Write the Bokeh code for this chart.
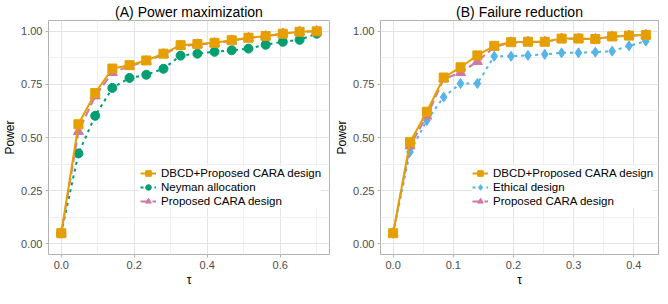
from bokeh.plotting import figure
from bokeh.layouts import row
from bokeh.models import (FixedTicker, PrintfTickFormatter, Legend, LegendItem, Range1d)
from bokeh.embed import file_html
from bokeh.resources import INLINE

# ---- data ----
tau_a = [0, 0.047, 0.093, 0.14, 0.187, 0.233, 0.28, 0.327, 0.373, 0.42, 0.467, 0.513, 0.56, 0.607, 0.653, 0.7]
dbcd_a = [0.05, 0.562, 0.709, 0.824, 0.840, 0.862, 0.894, 0.934, 0.939, 0.945, 0.957, 0.969, 0.977, 0.988, 0.997, 0.999]
prop_a = [0.05, 0.528, 0.695, 0.805, 0.835, 0.858, 0.890, 0.930, 0.937, 0.943, 0.955, 0.968, 0.976, 0.988, 0.997, 0.999]
neyman_a = [0.05, 0.425, 0.602, 0.733, 0.780, 0.795, 0.823, 0.885, 0.894, 0.903, 0.910, 0.918, 0.936, 0.950, 0.959, 0.988]

tau_b = [0, 0.028, 0.056, 0.084, 0.112, 0.14, 0.168, 0.196, 0.224, 0.252, 0.28, 0.308, 0.336, 0.364, 0.392, 0.42]
dbcd_b = [0.05, 0.478, 0.621, 0.782, 0.830, 0.886, 0.931, 0.948, 0.950, 0.950, 0.965, 0.965, 0.963, 0.975, 0.979, 0.982]
prop_b = [0.05, 0.460, 0.600, 0.775, 0.805, 0.857, 0.925, 0.946, 0.949, 0.949, 0.964, 0.964, 0.962, 0.974, 0.978, 0.981]
ethical_b = [0.05, 0.432, 0.580, 0.690, 0.754, 0.754, 0.882, 0.882, 0.886, 0.891, 0.898, 0.898, 0.901, 0.906, 0.931, 0.953]

y_ticks = [0, 0.25, 0.5, 0.75, 1.0]
y_minor = [0.125, 0.375, 0.625, 0.875]

ORANGE = "#E69F00"
GREEN = "#009E73"
PINK = "#CC79A7"
BLUE = "#56B4E9"
FONT = "Liberation Sans"


def make_panel(title, x, dbcd, other, prop, other_name, other_color, other_marker,
               other_size, x_ticks, x_minor, x_range, frame_w, border_right):
    p = figure(frame_width=frame_w, frame_height=234, output_backend="svg",
               toolbar_location=None,
               x_range=Range1d(*x_range), y_range=Range1d(-0.05, 1.05),
               min_border_left=37, min_border_right=border_right, min_border_top=0,
               min_border_bottom=0)
    p.title.text = title
    p.title.align = "center"
    p.title.text_font = FONT
    p.title.text_font_size = "14px"
    p.title.text_font_style = "normal"
    p.title.text_color = "black"
    p.title.standoff = 2

    p.outline_line_color = "#B3B3B3"
    p.outline_line_width = 1
    p.background_fill_color = "white"
    p.border_fill_color = "white"

    p.xaxis.ticker = FixedTicker(ticks=x_ticks, minor_ticks=x_minor)
    p.yaxis.ticker = FixedTicker(ticks=y_ticks, minor_ticks=y_minor)
    p.xaxis.formatter = PrintfTickFormatter(format="%.1f")
    p.yaxis.formatter = PrintfTickFormatter(format="%.2f")
    p.xaxis.axis_label = "τ"
    p.yaxis.axis_label = "Power"
    for ax in (p.xaxis, p.yaxis):
        ax.axis_line_color = None
        ax.major_tick_line_color = "#B3B3B3"
        ax.major_tick_in = 0
        ax.major_tick_out = 3
        ax.minor_tick_line_color = None
        ax.major_label_text_font = FONT
        ax.major_label_text_font_size = "11px"
        ax.major_label_text_color = "#4D4D4D"
        ax.major_label_standoff = 2
        ax.axis_label_text_font = FONT
        ax.axis_label_text_font_size = "12px"
        ax.axis_label_text_font_style = "normal"
        ax.axis_label_text_color = "black"
        ax.axis_label_standoff = 1

    for g in (p.xgrid, p.ygrid):
        g.grid_line_color = "#E4E4E4"
        g.grid_line_width = 1
        g.minor_grid_line_color = "#F0F0F0"
        g.minor_grid_line_width = 1

    # other (dotted)
    l_o = p.line(x, other, line_color=other_color, line_width=2, line_dash="3 4")
    s_o = p.scatter(x, other, marker=other_marker, size=other_size, color=other_color)
    # proposed (dashed)
    l_p = p.line(x, prop, line_color=PINK, line_width=2, line_dash="8 4")
    s_p = p.scatter(x, prop, marker="triangle", size=10, color=PINK)
    # DBCD (solid)
    l_d = p.line(x, dbcd, line_color=ORANGE, line_width=2)
    s_d = p.scatter(x, dbcd, marker="square", size=9, color=ORANGE)

    legend = Legend(items=[
        LegendItem(label="DBCD+Proposed CARA design", renderers=[l_d, s_d]),
        LegendItem(label=other_name, renderers=[l_o, s_o]),
        LegendItem(label="Proposed CARA design", renderers=[l_p, s_p]),
    ], location=(92, 46))
    legend.label_text_font = FONT
    legend.label_text_font_size = "11.5px"
    legend.label_text_color = "black"
    legend.label_height = 14
    legend.glyph_height = 14
    legend.glyph_width = 16
    legend.label_standoff = 5
    legend.spacing = 0
    legend.padding = 4
    legend.margin = 0
    legend.border_line_color = None
    legend.background_fill_color = "white"
    legend.background_fill_alpha = 1.0
    p.add_layout(legend, "center")
    return p


pa = make_panel("(A) Power maximization", tau_a, dbcd_a, neyman_a, prop_a,
                "Neyman allocation", GREEN, "circle", 9,
                [0, 0.2, 0.4, 0.6], [0.1, 0.3, 0.5, 0.7], (-0.035, 0.735), 281, 3)
pb = make_panel("(B) Failure reduction", tau_b, dbcd_b, ethical_b, prop_b,
                "Ethical design", BLUE, "diamond", 10,
                [0, 0.1, 0.2, 0.3, 0.4], [0.05, 0.15, 0.25, 0.35], (-0.021, 0.441), 278, 2)

layout = row(pa, pb, spacing=0)
open("out.html", "w").write(file_html(layout, INLINE))
